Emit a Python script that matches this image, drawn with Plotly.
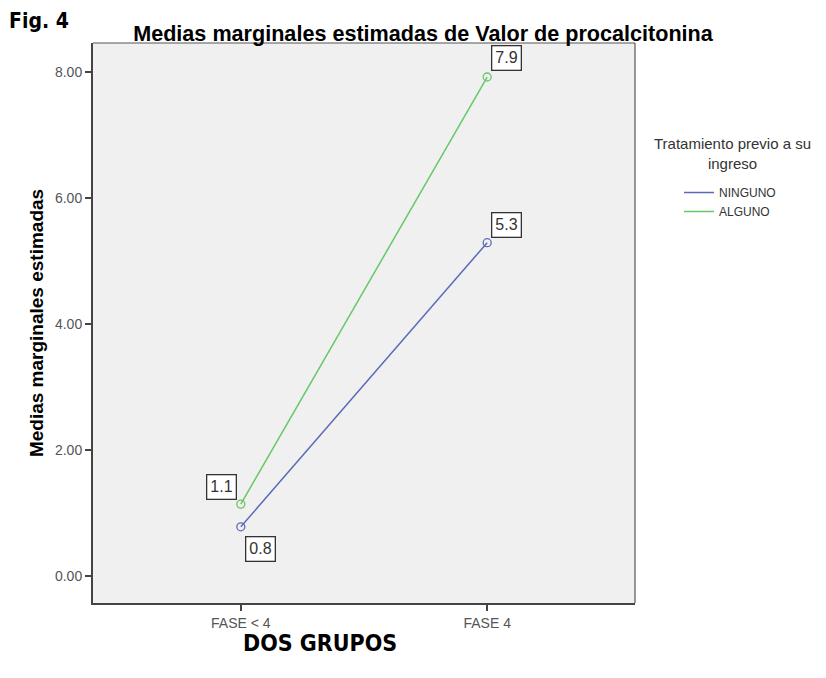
import plotly.graph_objects as go

categories = ["FASE < 4", "FASE 4"]
ninguno = [0.78, 5.29]
alguno = [1.14, 7.92]
ninguno_labels = ["0.8", "5.3"]
alguno_labels = ["1.1", "7.9"]
series_names = ["NINGUNO", "ALGUNO"]
y_ticks = [0, 2, 4, 6, 8]

blue = "#5A6AB8"
green = "#66C866"

# page body margin offset (8px) compensated
OFF = 8
W, H = 810, 662
L, R, T, B = 85, 183, 35, 67
PW, PH = W - L - R, H - T - B


def px(xpage):
    return (xpage - OFF - L) / PW


def py(ypage):
    return (H - B - (ypage - OFF)) / PH


fig = go.Figure()
for vals, name, col in [(ninguno, series_names[0], blue), (alguno, series_names[1], green)]:
    fig.add_trace(go.Scatter(
        x=categories, y=vals, name=name, mode="lines",
        line=dict(color=col, width=1.5), showlegend=True,
    ))
for vals, name, col in [(ninguno, series_names[0], blue), (alguno, series_names[1], green)]:
    fig.add_trace(go.Scatter(
        x=categories, y=vals, name=name, mode="markers", showlegend=False,
        marker=dict(symbol="circle-open", size=8, color=col, line=dict(width=1.3)),
    ))


def label(x, y, text, xshift, yshift):
    fig.add_annotation(
        x=x, y=y, xref="x", yref="y", text=text, showarrow=False,
        xshift=xshift, yshift=yshift,
        font=dict(family="Liberation Sans, Arial", size=16, color="#333333"),
        bordercolor="#333333", borderwidth=1.3, borderpad=3, bgcolor="white",
    )


label(categories[0], alguno[0], alguno_labels[0], -19, 17)
label(categories[0], ninguno[0], ninguno_labels[0], 20, -22)
label(categories[1], alguno[1], alguno_labels[1], 19, 19)
label(categories[1], ninguno[1], ninguno_labels[1], 19, 18)

fig.add_annotation(
    x=px(7), y=py(21), xref="paper", yref="paper", text="<b>Fig. 4</b>",
    showarrow=False, xanchor="left", yanchor="middle",
    font=dict(family="Liberation Sans Narrow, DejaVu Sans Condensed, Liberation Sans", size=21, color="black"),
)

fig.add_annotation(
    x=px(732), y=py(154), xref="paper", yref="paper",
    text="Tratamiento previo a su<br>ingreso", showarrow=False,
    xanchor="center", yanchor="middle",
    font=dict(family="Liberation Sans, Arial", size=15, color="#333333"),
)

fig.add_annotation(
    x=px(320), y=py(643), xref="paper", yref="paper",
    text="<b>DOS GRUPOS</b>", showarrow=False,
    xanchor="center", yanchor="middle",
    font=dict(family="Liberation Sans Narrow, DejaVu Sans Condensed, Liberation Sans", size=23, color="black"),
)

fig.update_layout(
    width=W, height=H,
    margin=dict(l=L, r=R, t=T, b=B),
    paper_bgcolor="white",
    plot_bgcolor="#F0F0F0",
    title=dict(
        text="<b>Medias marginales estimadas de Valor de procalcitonina</b>",
        x=(423 - OFF) / W, xanchor="center", y=1 - (33 - OFF) / H, yanchor="middle",
        font=dict(family="Liberation Sans, Arial", size=21.6, color="black"),
    ),
    showlegend=True,
    legend=dict(
        x=px(679), y=py(178), xanchor="left", yanchor="top",
        font=dict(family="Liberation Sans, Arial", size=12, color="#333333"),
        bgcolor="rgba(0,0,0,0)", itemwidth=30, tracegroupgap=0,
    ),
    xaxis=dict(
        type="category", range=[-0.6, 1.6], showgrid=False, zeroline=False,
        showline=True, linecolor="#444444", linewidth=2,
        ticks="outside", ticklen=6, tickcolor="#444444", tickwidth=1.5,
        tickfont=dict(family="Liberation Sans, Arial", size=14, color="#555555"),
    ),
    yaxis=dict(
        tickmode="array", tickvals=y_ticks, ticktext=[f"{v:.2f}" for v in y_ticks],
        range=[-0.43, 8.46], showgrid=False, zeroline=False,
        showline=True, linecolor="#444444", linewidth=2,
        ticks="outside", ticklen=6, tickcolor="#444444", tickwidth=1.5,
        tickfont=dict(family="Liberation Sans, Arial", size=14, color="#555555"),
        title=dict(text="<b>Medias marginales estimadas</b>", standoff=6,
                   font=dict(family="Liberation Sans, Arial", size=19, color="black")),
    ),
)

# thin frame on top and right of plot area
fig.add_shape(type="line", xref="paper", yref="paper", x0=0, x1=1, y0=1, y1=1,
              line=dict(color="#555555", width=1.2))
fig.add_shape(type="line", xref="paper", yref="paper", x0=1, x1=1, y0=0, y1=1,
              line=dict(color="#555555", width=1.2))

fig.write_html("out.html")
